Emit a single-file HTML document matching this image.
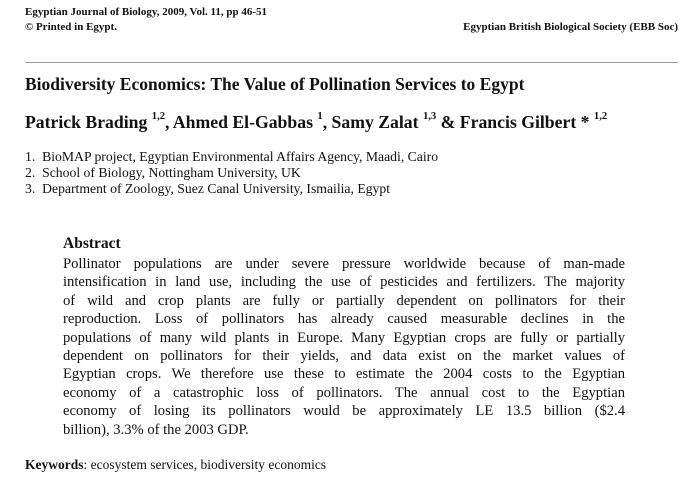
<!DOCTYPE html>
<html><head><meta charset="utf-8"><style>
body{margin:0;width:698px;height:487px;background:#fff;position:relative;overflow:hidden;font-family:"Liberation Serif",serif;color:#111}
div.l{position:absolute;white-space:nowrap;line-height:1}
.j{width:562px;text-align:justify;text-align-last:justify;white-space:normal!important}
sup{font-size:60%;vertical-align:top;position:relative;top:-2px}
</style></head><body>
<div class="l" style="left:25px;top:7px;font-size:11px;font-weight:bold">Egyptian Journal of Biology, 2009, Vol. 11, pp 46-51</div>
<div class="l" style="left:25px;top:22px;font-size:11px;font-weight:bold">© Printed in Egypt.</div>
<div class="l" style="right:20px;top:22px;font-size:11px;font-weight:bold">Egyptian British Biological Society (EBB Soc)</div>
<div style="position:absolute;left:25px;width:653px;top:62px;border-top:1px solid #999"></div>
<div class="l" style="left:25px;top:76px;font-size:17.5px;font-weight:bold">Biodiversity Economics: The Value of Pollination Services to Egypt</div>
<div class="l" style="left:25px;top:114px;font-size:17.7px;font-weight:bold">Patrick Brading <sup>1,2</sup>, Ahmed El-Gabbas <sup>1</sup>, Samy Zalat <sup>1,3</sup> &amp; Francis Gilbert * <sup>1,2</sup></div>
<div class="l" style="left:25px;top:150px;font-size:13.7px">1.&nbsp; BioMAP project, Egyptian Environmental Affairs Agency, Maadi, Cairo</div>
<div class="l" style="left:25px;top:166px;font-size:13.7px">2.&nbsp; School of Biology, Nottingham University, UK</div>
<div class="l" style="left:25px;top:182px;font-size:13.7px">3.&nbsp; Department of Zoology, Suez Canal University, Ismailia, Egypt</div>
<div class="l" style="left:63px;top:236px;font-size:15.5px;font-weight:bold">Abstract</div>
<div style="position:absolute;left:63px;top:255px;font-size:14.6px;line-height:18.4px">
<div class="j">Pollinator populations are under severe pressure worldwide because of man-made</div>
<div class="j">intensification in land use, including the use of pesticides and fertilizers. The majority</div>
<div class="j">of wild and crop plants are fully or partially dependent on pollinators for their</div>
<div class="j">reproduction. Loss of pollinators has already caused measurable declines in the</div>
<div class="j">populations of many wild plants in Europe. Many Egyptian crops are fully or partially</div>
<div class="j">dependent on pollinators for their yields, and data exist on the market values of</div>
<div class="j">Egyptian crops. We therefore use these to estimate the 2004 costs to the Egyptian</div>
<div class="j">economy of a catastrophic loss of pollinators. The annual cost to the Egyptian</div>
<div class="j">economy of losing its pollinators would be approximately LE 13.5 billion (&#36;2.4</div>
<div>billion), 3.3% of the 2003 GDP.</div>
</div>
<div class="l" style="left:25px;top:458px;font-size:13.5px"><b>Keywords</b>: ecosystem services, biodiversity economics</div>
</body></html>
